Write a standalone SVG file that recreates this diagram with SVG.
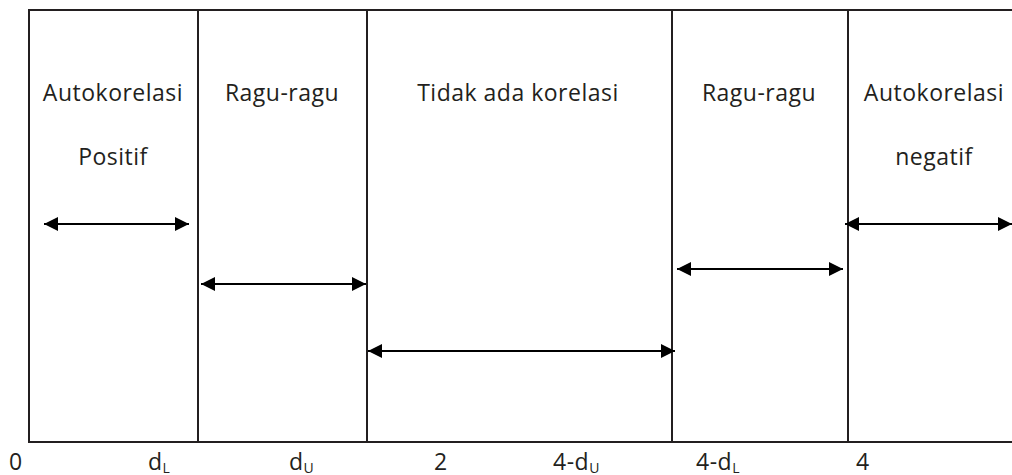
<svg xmlns="http://www.w3.org/2000/svg" width="1012" height="475" viewBox="0 0 1012 475">
<defs>
<marker id="ah" viewBox="0 0 14 14" refX="14" refY="7" markerWidth="14" markerHeight="14" markerUnits="userSpaceOnUse" orient="auto-start-reverse">
<path d="M0,0 L14,7 L0,14 Z" fill="#000"/>
</marker>
<style>
.frame{stroke:#231f20;stroke-width:2;fill:none}
.arr{stroke:#000;stroke-width:2;fill:none;marker-start:url(#ah);marker-end:url(#ah)}
text{font-family:"Open Sans","Noto Sans",sans-serif;font-size:23px;letter-spacing:0.5px;fill:#231f20}
.c{text-anchor:middle}
.sub{font-size:14px;letter-spacing:0}
</style>
</defs>
<g id="frame">
<line class="frame" x1="28" y1="10" x2="1012" y2="10"/>
<line class="frame" x1="28" y1="442" x2="1012" y2="442"/>
</g>
<g id="boundaries">
<line class="frame" x1="29" y1="9" x2="29" y2="443"/>
<line class="frame" x1="198" y1="9" x2="198" y2="443"/>
<line class="frame" x1="367" y1="9" x2="367" y2="443"/>
<line class="frame" x1="672" y1="9" x2="672" y2="443"/>
<line class="frame" x1="848" y1="9" x2="848" y2="443"/>
</g>
<g id="region-autokorelasi-positif">
<text class="c" x="113" y="101">Autokorelasi</text>
<text class="c" x="113" y="165">Positif</text>
</g>
<g id="region-ragu-1">
<text class="c" x="282" y="101">Ragu-ragu</text>
</g>
<g id="region-tidak-ada">
<text class="c" x="518" y="101">Tidak ada korelasi</text>
</g>
<g id="region-ragu-2">
<text class="c" x="759" y="101">Ragu-ragu</text>
</g>
<g id="region-autokorelasi-negatif">
<text class="c" x="934" y="101">Autokorelasi</text>
<text class="c" x="934" y="165">negatif</text>
</g>
<g id="connectors">
<line class="arr" x1="44" y1="224" x2="189" y2="224"/>
<line class="arr" x1="201" y1="284" x2="366" y2="284"/>
<line class="arr" x1="368" y1="351" x2="675" y2="351"/>
<line class="arr" x1="677" y1="269" x2="843" y2="269"/>
<line class="arr" x1="845" y1="224" x2="1012" y2="224"/>
</g>
<g id="axis-labels">
<text x="9" y="470">0</text>
<text x="148" y="470">d<tspan class="sub" dy="3">L</tspan></text>
<text x="289" y="470">d<tspan class="sub" dy="3">U</tspan></text>
<text x="434" y="470">2</text>
<text x="553" y="470">4-d<tspan class="sub" dy="3">U</tspan></text>
<text x="696" y="470">4-d<tspan class="sub" dy="3">L</tspan></text>
<text x="856" y="470">4</text>
</g>
</svg>
